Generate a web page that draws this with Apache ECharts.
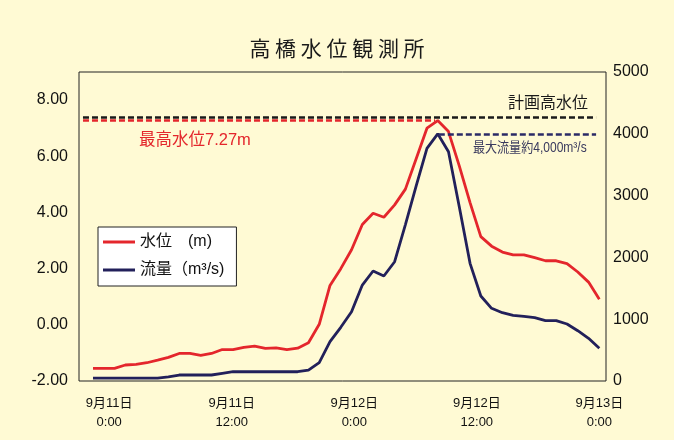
<!DOCTYPE html>
<html>
<head>
<meta charset="utf-8">
<script src="https://cdn.jsdelivr.net/npm/echarts@6/dist/echarts.min.js"></script>
<style>
html,body{margin:0;padding:0;background:#fffad4;}
#c{width:674px;height:440px;}
</style>
</head>
<body>
<div id="c"></div>
<script>
// ---- data ----
const titleText = '高 橋 水 位 観 測 所';
const seriesNames = ['水位　(m)', '流量（m³/s)'];
const xTickHours = [0, 12, 24, 36, 48];
const xTickLabels = ['9月11日\n0:00', '9月11日\n12:00', '9月12日\n0:00', '9月12日\n12:00', '9月13日\n0:00'];
const waterLevel = [-1.55,-1.55,-1.55,-1.43,-1.41,-1.35,-1.26,-1.16,-1.02,-1.02,-1.09,-1.02,-0.88,-0.88,-0.80,-0.76,
  -0.84,-0.82,-0.88,-0.83,-0.64,0.02,1.40,2.00,2.67,3.57,3.97,3.83,4.27,4.83,5.91,7.00,7.27,6.88,5.66,4.35,
  3.14,2.80,2.59,2.49,2.49,2.39,2.28,2.28,2.18,1.88,1.52,0.91];
const discharge = [45,45,45,45,45,45,45,66,97,97,97,97,125,150,150,150,150,150,150,150,175,296,636,869,1121,1553,
  1780,1699,1930,2532,3157,3765,4000,3710,2820,1904,1375,1176,1105,1063,1044,1024,976,976,922,814,691,529];
const planHighWater = 7.40;
const maxLevel = 7.27;
const maxFlow = 4000;
const levelTicks = [-2, 8, 2];   // min, last label, interval
const flowTicks = [0, 5000, 1000];

// ---- chart ----
const RED = '#e4262c', NAVY = '#22205a', BG = '#fffad4';
const LAT = 'Liberation Sans, Noto Sans CJK JP, sans-serif';
const JP = 'Noto Sans CJK JP, sans-serif';
const peakIdx = waterLevel.indexOf(Math.max(...waterLevel));
const lastIdx = waterLevel.length - 1;
const chart = echarts.init(document.getElementById('c'), null, {renderer: 'canvas'});
chart.setOption({
  animation: false,
  backgroundColor: BG,
  title: {
    text: titleText, left: 'center', top: 33,
    textStyle: {fontFamily: JP, fontSize: 21, fontWeight: 'normal', color: '#1a1a1a'}
  },
  grid: {left: 79, right: 68, top: 72, bottom: 59, show: true, borderColor: '#222', borderWidth: 1, backgroundColor: 'transparent'},
  legend: {
    orient: 'vertical', left: 98, top: 227, padding: [7, 12, 8, 5], itemGap: 12,
    itemWidth: 32, itemHeight: 3, icon: 'rect',
    backgroundColor: '#ffffff', borderColor: '#222', borderWidth: 1,
    textStyle: {fontFamily: LAT, fontSize: 16, color: '#111'},
    data: seriesNames
  },
  xAxis: [
    {type: 'value', min: -1.30, max: 47.62, show: false},
    {type: 'value', position: 'bottom', min: -2.957, max: 48.65,
     axisLine: {show: false}, axisTick: {show: false}, splitLine: {show: false},
     axisLabel: {
       customValues: xTickHours, margin: 13, lineHeight: 19,
       fontFamily: LAT, fontSize: 13, color: '#111',
       formatter: v => { const k = xTickHours.indexOf(v); return k >= 0 ? xTickLabels[k] : ''; }
     }}
  ],
  yAxis: [
    {type: 'value', min: levelTicks[0], max: 9, interval: levelTicks[2],
     axisLine: {show: false}, axisTick: {show: false}, splitLine: {show: false},
     axisLabel: {margin: 11, fontFamily: LAT, fontSize: 16, color: '#111',
       formatter: v => v > levelTicks[1] ? '' : v.toFixed(2)}},
    {type: 'value', min: flowTicks[0], max: flowTicks[1], interval: flowTicks[2], position: 'right',
     axisLine: {show: false}, axisTick: {show: false}, splitLine: {show: false},
     axisLabel: {margin: 7, fontFamily: LAT, fontSize: 16, color: '#111', formatter: v => String(v)}}
  ],
  series: [
    {
      name: seriesNames[0], type: 'line', xAxisIndex: 0, yAxisIndex: 0,
      data: waterLevel.map((v, i) => [i, v]), symbol: 'none',
      lineStyle: {color: RED, width: 2.8}, itemStyle: {color: RED}, z: 3,
      markLine: {
        silent: true, symbol: ['none', 'none'], label: {show: false},
        data: [
          [{coord: [-0.93, planHighWater], lineStyle: {color: '#1a1a1a', type: [6, 3], width: 2.7}},
           {coord: [lastIdx - 0.3, planHighWater]}],
          [{coord: [-0.93, maxLevel], lineStyle: {color: RED, type: [6, 3], width: 2.7}},
           {coord: [peakIdx - 0.25, maxLevel]}]
        ]
      }
    },
    {
      name: seriesNames[1], type: 'line', xAxisIndex: 0, yAxisIndex: 1,
      data: discharge.map((v, i) => [i, v]), symbol: 'none',
      lineStyle: {color: NAVY, width: 2.8}, itemStyle: {color: NAVY}, z: 2,
      markLine: {
        silent: true, symbol: ['none', 'none'], label: {show: false},
        data: [
          [{coord: [peakIdx + 0.1, maxFlow], lineStyle: {color: '#2b2a66', type: [6, 3], width: 2.7}},
           {coord: [lastIdx - 0.3, maxFlow]}]
        ]
      }
    }
  ],
  graphic: [
    {type: 'text', x: 588, y: 102, silent: true,
     style: {text: '計画高水位', font: '16px ' + JP, fill: '#1a1a1a', align: 'right', verticalAlign: 'middle'}},
    {type: 'text', x: 139, y: 140, silent: true,
     style: {text: '最高水位' + maxLevel.toFixed(2) + 'm', font: '16.5px ' + LAT, fill: RED, align: 'left', verticalAlign: 'middle'}},
    {type: 'text', x: 473, y: 148, scaleX: 0.86, silent: true,
     style: {text: '最大流量約4,000m³/s', font: '14px ' + LAT, fill: '#3a3a5e', align: 'left', verticalAlign: 'middle'}}
  ]
});
</script>
</body>
</html>
